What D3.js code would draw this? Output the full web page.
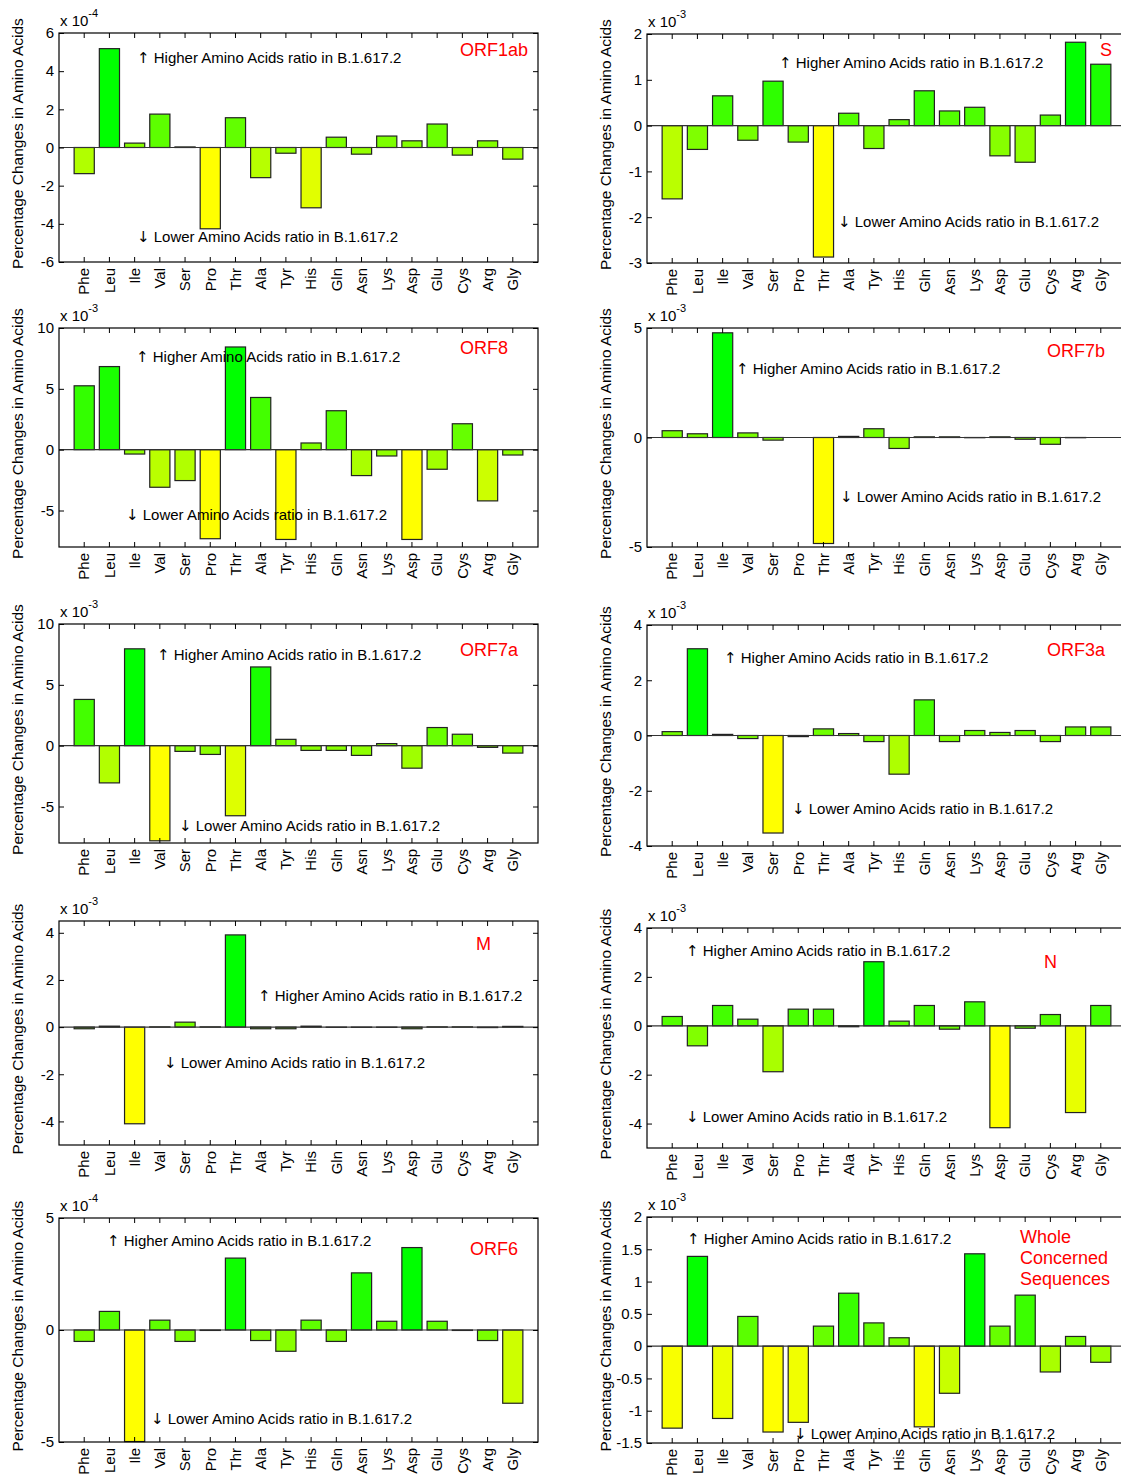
<!DOCTYPE html>
<html>
<head>
<meta charset="utf-8">
<script src="https://cdn.jsdelivr.net/npm/d3@7"></script>
<style>
  body { margin: 0; background: #fff; }
  svg text { font-family: "Liberation Sans", Arial, Helvetica, sans-serif; fill: #000; }
</style>
</head>
<body>
<div id="chart"></div>
<script>
// amino acid categories (x axis)
const aminoAcids = ["Phe", "Leu", "Ile", "Val", "Ser", "Pro", "Thr", "Ala", "Tyr", "His",
                    "Gln", "Asn", "Lys", "Asp", "Glu", "Cys", "Arg", "Gly"];

// percentage changes, in units of the panel's exponent (x 10^-4 or x 10^-3)
const orf1abValues = [-1.37, 5.18, 0.23, 1.75, 0.03, -4.26, 1.56, -1.58, -0.30, -3.16,
                      0.54, -0.35, 0.60, 0.35, 1.23, -0.40, 0.35, -0.61];
const spikeValues  = [-1.60, -0.52, 0.65, -0.32, 0.97, -0.36, -2.87, 0.27, -0.50, 0.13,
                      0.76, 0.32, 0.40, -0.66, -0.80, 0.23, 1.82, 1.34];
const orf8Values   = [5.25, 6.83, -0.36, -3.09, -2.54, -7.32, 8.44, 4.29, -7.38, 0.55,
                      3.20, -2.13, -0.52, -7.38, -1.61, 2.13, -4.21, -0.44];
const orf7bValues  = [0.31, 0.17, 4.78, 0.21, -0.12, 0.00, -4.84, 0.05, 0.40, -0.50,
                      0.03, 0.03, -0.01, 0.03, -0.08, -0.31, -0.01, 0.00];
const orf7aValues  = [3.80, -3.06, 7.96, -7.82, -0.47, -0.72, -5.76, 6.47, 0.52, -0.39,
                      -0.39, -0.80, 0.17, -1.85, 1.49, 0.94, -0.14, -0.61];
const orf3aValues  = [0.14, 3.14, 0.04, -0.11, -3.53, -0.04, 0.24, 0.07, -0.22, -1.40,
                      1.29, -0.22, 0.18, 0.11, 0.18, -0.22, 0.31, 0.31];
const mValues      = [-0.07, 0.04, -4.10, 0.01, 0.21, 0.01, 3.91, -0.07, -0.07, 0.04,
                      -0.01, -0.01, -0.01, -0.07, 0.01, 0.01, -0.02, 0.03];
const nValues      = [0.38, -0.82, 0.83, 0.27, -1.88, 0.68, 0.68, -0.04, 2.62, 0.19,
                      0.83, -0.14, 0.98, -4.17, -0.10, 0.46, -3.55, 0.83];
const orf6Values   = [-0.51, 0.83, -4.98, 0.44, -0.51, -0.02, 3.21, -0.47, -0.95, 0.44,
                      -0.51, 2.55, 0.39, 3.68, 0.39, -0.02, -0.47, -3.27];
const wholeValues  = [-1.27, 1.39, -1.12, 0.46, -1.33, -1.18, 0.31, 0.82, 0.36, 0.13,
                      -1.25, -0.73, 1.43, 0.31, 0.79, -0.40, 0.15, -0.25];

// y tick labels of each panel
const orf1abTicks = [-6, -4, -2, 0, 2, 4, 6];
const spikeTicks  = [-3, -2, -1, 0, 1, 2];
const orf8Ticks   = [-5, 0, 5, 10];
const orf7bTicks  = [-5, 0, 5];
const orf7aTicks  = [-5, 0, 5, 10];
const orf3aTicks  = [-4, -2, 0, 2, 4];
const mTicks      = [-4, -2, 0, 2, 4];
const nTicks      = [-4, -2, 0, 2, 4];
const orf6Ticks   = [-5, 0, 5];
const wholeTicks  = [-1.5, -1, -0.5, 0, 0.5, 1, 1.5, 2];

const upText = " Higher Amino Acids ratio in B.1.617.2";
const downText = " Lower Amino Acids ratio in B.1.617.2";
const yLabel = "Percentage Changes in Amino Acids";

const W = 1121, H = 1476;
const colX = [59, 647];
const boxW = 479;

// layout of the ten panels
const panels = [
  { name: ["ORF1ab"], values: orf1abValues, ticks: orf1abTicks, ylim: [-6, 6], exp: "-4",
    col: 0, top: 33, bottom: 262, up: [137, 63], down: [137, 242], label: [528, 56, "end"] },
  { name: ["S"], values: spikeValues, ticks: spikeTicks, ylim: [-3, 2], exp: "-3",
    col: 1, top: 34, bottom: 263, up: [779, 68], down: [838, 227], label: [1112, 56, "end"] },
  { name: ["ORF8"], values: orf8Values, ticks: orf8Ticks, ylim: [-8, 10], exp: "-3",
    col: 0, top: 328, bottom: 547, up: [136, 362], down: [126, 520], label: [508, 354, "end"] },
  { name: ["ORF7b"], values: orf7bValues, ticks: orf7bTicks, ylim: [-5, 5], exp: "-3",
    col: 1, top: 328, bottom: 547, up: [736, 374], down: [840, 502], label: [1105, 357, "end"] },
  { name: ["ORF7a"], values: orf7aValues, ticks: orf7aTicks, ylim: [-8, 10], exp: "-3",
    col: 0, top: 624, bottom: 843, up: [157, 660], down: [179, 831], label: [518, 656, "end"] },
  { name: ["ORF3a"], values: orf3aValues, ticks: orf3aTicks, ylim: [-4, 4], exp: "-3",
    col: 1, top: 625, bottom: 846, up: [724, 663], down: [792, 814], label: [1105, 656, "end"] },
  { name: ["M"], values: mValues, ticks: mTicks, ylim: [-5, 4.5], exp: "-3",
    col: 0, top: 921, bottom: 1145, up: [258, 1001], down: [164, 1068], label: [491, 950, "end"] },
  { name: ["N"], values: nValues, ticks: nTicks, ylim: [-5, 4], exp: "-3",
    col: 1, top: 928, bottom: 1148, up: [686, 956], down: [686, 1122], label: [1057, 968, "end"] },
  { name: ["ORF6"], values: orf6Values, ticks: orf6Ticks, ylim: [-5, 5], exp: "-4",
    col: 0, top: 1218, bottom: 1442, up: [107, 1246], down: [151, 1424], label: [518, 1255, "end"] },
  { name: ["Whole", "Concerned", "Sequences"], values: wholeValues, ticks: wholeTicks, ylim: [-1.5, 2], exp: "-3",
    col: 1, top: 1217, bottom: 1443, up: [687, 1244], down: [794, 1439], label: [1020, 1243, "start"] }
];

const svg = d3.select("#chart")
  .append("svg")
  .attr("width", W)
  .attr("height", H)
  .attr("viewBox", [0, 0, W, H]);

function note(g, pos, arrow, txt) {
  const t = g.append("text")
    .attr("x", pos[0]).attr("y", pos[1])
    .style("font-size", "15px");
  t.append("tspan").style("font-family", "'DejaVu Sans'").style("font-size", "15px").text(arrow);
  t.append("tspan").text(txt);
}

panels.forEach(p => {
  const x0 = colX[p.col];
  const g = svg.append("g");

  // xlim [0, 19] with bar width 0.8 -> band scale
  const x = d3.scaleBand()
    .domain(aminoAcids)
    .range([x0, x0 + boxW])
    .paddingInner(0.2)
    .paddingOuter(0.6);

  const y = d3.scaleLinear()
    .domain(p.ylim)
    .range([p.bottom, p.top]);

  const vmin = d3.min(p.values), vmax = d3.max(p.values);
  const color = d3.scaleLinear()
    .domain([vmin, vmax])
    .range(["#ffff00", "#00ff00"])
    .interpolate(d3.interpolateRgb);

  // bars
  g.selectAll(".bar")
    .data(aminoAcids.map((a, i) => ({ aa: a, v: p.values[i] })))
    .join("rect")
    .attr("class", "bar")
    .attr("x", d => x(d.aa))
    .attr("width", x.bandwidth())
    .attr("y", d => y(Math.max(0, d.v)))
    .attr("height", d => Math.abs(y(d.v) - y(0)))
    .attr("fill", d => color(d.v))
    .attr("stroke", "#222")
    .attr("stroke-width", 1.2);

  // baseline at zero
  g.append("line")
    .attr("x1", x0).attr("x2", x0 + boxW)
    .attr("y1", y(0)).attr("y2", y(0))
    .attr("stroke", "#333")
    .attr("stroke-width", 1.2);

  // annotation texts
  note(g, p.up, "\u2191", upText);
  note(g, p.down, "\u2193", downText);

  // box
  g.append("rect")
    .attr("x", x0).attr("y", p.top)
    .attr("width", boxW).attr("height", p.bottom - p.top)
    .attr("fill", "none")
    .attr("stroke", "#000")
    .attr("stroke-width", 1.2);

  // y axis left and right, ticks inside
  const yLeft = d3.axisLeft(y).tickValues(p.ticks).tickSizeInner(-5).tickSizeOuter(0)
    .tickPadding(5).tickFormat(d => String(d));
  g.append("g")
    .attr("transform", `translate(${x0},0)`)
    .call(yLeft)
    .call(s => s.select(".domain").remove())
    .call(s => s.selectAll("text").style("font-size", "15px").attr("fill", "#000"));

  const yRight = d3.axisRight(y).tickValues(p.ticks).tickSizeInner(-5).tickSizeOuter(0)
    .tickFormat("");
  g.append("g")
    .attr("transform", `translate(${x0 + boxW},0)`)
    .call(yRight)
    .call(s => s.select(".domain").remove());

  // x axis bottom and top, ticks inside
  const xBottom = d3.axisBottom(x).tickSizeInner(-5).tickSizeOuter(0).tickFormat("");
  g.append("g")
    .attr("transform", `translate(0,${p.bottom})`)
    .call(xBottom)
    .call(s => s.select(".domain").remove());
  const xTop = d3.axisTop(x).tickSizeInner(-5).tickSizeOuter(0).tickFormat("");
  g.append("g")
    .attr("transform", `translate(0,${p.top})`)
    .call(xTop)
    .call(s => s.select(".domain").remove());

  // rotated category labels
  g.selectAll(".xlab")
    .data(aminoAcids)
    .join("text")
    .attr("class", "xlab")
    .attr("transform", d => `translate(${x(d) + x.bandwidth() / 2},${p.bottom + 6}) rotate(-90)`)
    .attr("dy", "0.35em")
    .attr("text-anchor", "end")
    .style("font-size", "15px")
    .text(d => d);

  // exponent label
  const ex = g.append("text")
    .attr("x", x0 + 1).attr("y", p.top - 7)
    .style("font-size", "15px");
  ex.append("tspan").text("x 10");
  ex.append("tspan").attr("dy", -9).style("font-size", "11px").text(p.exp);

  // y axis title
  g.append("text")
    .attr("transform", `translate(${x0 - 36},${(p.top + p.bottom) / 2 - 4}) rotate(-90)`)
    .attr("text-anchor", "middle")
    .style("font-size", "15.5px")
    .text(yLabel);

  // panel name
  g.selectAll(".pname")
    .data(p.name)
    .join("text")
    .attr("class", "pname")
    .attr("x", p.label[0])
    .attr("y", (d, i) => p.label[1] + i * 21)
    .attr("text-anchor", p.label[2])
    .style("font-size", "18px")
    .style("fill", "#ff0000")
    .text(d => d);
});
</script>
</body>
</html>
